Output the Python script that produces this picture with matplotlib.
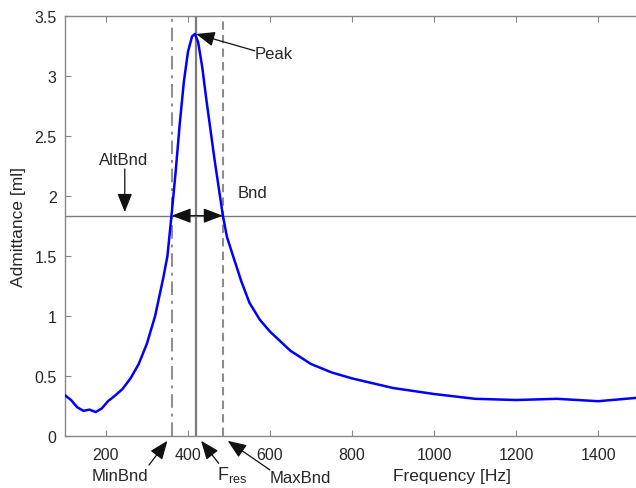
# Admittance spectrum with resonance / bandwidth markers
import matplotlib.pyplot as plt
import numpy as np

# ---------------------------------------------------------
# Data
# ---------------------------------------------------------
freq = [100, 115, 130, 145, 160, 175, 190, 205, 220, 240, 260, 280, 300,
        320, 340, 350, 360, 370, 380, 390, 400, 410, 417, 425, 435, 445,
        455, 465, 475, 485, 495, 510, 530, 550, 575, 600, 650, 700, 750,
        800, 900, 1000, 1100, 1200, 1300, 1400, 1500]
admittance = [0.34, 0.30, 0.24, 0.21, 0.22, 0.20, 0.23, 0.29, 0.33, 0.39,
              0.48, 0.60, 0.77, 1.00, 1.32, 1.50, 1.84, 2.20, 2.60, 2.95,
              3.20, 3.33, 3.35, 3.28, 3.07, 2.80, 2.55, 2.30, 2.07, 1.84,
              1.66, 1.50, 1.29, 1.11, 0.97, 0.87, 0.71, 0.60, 0.53, 0.48,
              0.40, 0.35, 0.31, 0.30, 0.31, 0.29, 0.32]

f_min = 360      # MinBnd
f_res = 420      # Fres
f_max = 485      # MaxBnd
bnd_level = 1.836
peak_f, peak_y = 420, 3.35

xticks = [200, 400, 600, 800, 1000, 1200, 1400]
yticks = [0, 0.5, 1, 1.5, 2, 2.5, 3, 3.5]

# ---------------------------------------------------------
# Figure
# ---------------------------------------------------------
plt.rcParams["font.family"] = ["Liberation Sans", "DejaVu Sans"]
plt.rcParams["mathtext.fontset"] = "custom"
plt.rcParams["mathtext.rm"] = "Liberation Sans"
txt = "#262626"
axc = "#868686"

fig = plt.figure(figsize=(6.36, 4.89), dpi=100)
ax = fig.add_axes([0.102, 0.1063, 0.903, 0.859])

ax.plot(freq, admittance, color="#0000ff", lw=1.8, zorder=5)

ax.axvline(f_min, color="#8c8c8c", lw=1.4, ls=(0, (7, 3, 1.5, 3)))
ax.axvline(f_res, color="#7a7a7a", lw=1.6)
ax.axvline(f_max, color="#8c8c8c", lw=1.5, ls=(0, (4, 2.5)))
ax.axhline(bnd_level, color="#7a7a7a", lw=1.0)

ax.set_xlim(100, 1500)
ax.set_ylim(0, 3.5)
ax.set_xticks(xticks)
ax.set_yticks(yticks)
ax.set_yticklabels([f"{v:g}" for v in yticks])

for s in ax.spines.values():
    s.set_color(axc)
    s.set_linewidth(1.0)
ax.spines["right"].set_visible(False)
ax.tick_params(direction="in", length=4, width=0.8, color=axc,
               labelcolor=txt, labelsize=11.5, top=True, right=False)
ax.tick_params(axis="x", pad=8)
ax.tick_params(axis="y", pad=6)

ax.set_xlabel("Frequency [Hz]", fontsize=12.5, color=txt)
ax.xaxis.set_label_coords(0.674, -0.076)
ax.set_ylabel("Admittance [ml]", fontsize=12.5, color=txt, labelpad=6)

# ---------------------------------------------------------
# Annotations
# ---------------------------------------------------------
arr = dict(arrowstyle="-|>,head_length=0.95,head_width=0.38",
           mutation_scale=12, color="#111111", lw=0.9, shrinkA=0, shrinkB=0)
fs = 12


def arrow(tail, tip, style=None):
    props = dict(arr)
    if style:
        props["arrowstyle"] = style
    ax.annotate("", xy=tip, xytext=tail, annotation_clip=False,
                arrowprops=props)


# Peak
ax.text(563, 3.19, "Peak", fontsize=fs, color=txt, ha="left", va="center")
arrow((563, 3.21), (peak_f, peak_y))

# AltBnd
ax.text(244, 2.30, "AltBnd", fontsize=fs, color=txt, ha="center", va="center")
arrow((246, 2.225), (246, bnd_level + 0.03))

# Bnd
ax.text(522, 2.03, "Bnd", fontsize=fs, color=txt, ha="left", va="center")
arrow((f_min, bnd_level), (f_max, bnd_level),
      style="<|-|>,head_length=1.0,head_width=0.38")

# labels below the frequency axis
ax.text(234, -0.325, "MinBnd", fontsize=fs, color=txt, ha="center",
        va="center", clip_on=False)
arrow((305, -0.242), (350, -0.04))

ax.text(470, -0.358, r"F$_{\mathrm{res}}$", fontsize=fs + 1, color=txt,
        ha="left", va="baseline", clip_on=False)
arrow((475, -0.2275), (432, -0.04))

ax.text(674, -0.346, "MaxBnd", fontsize=fs, color=txt, ha="center",
        va="center", clip_on=False)
arrow((600, -0.283), (497, -0.04))

fig.savefig("out.png", dpi=100)
